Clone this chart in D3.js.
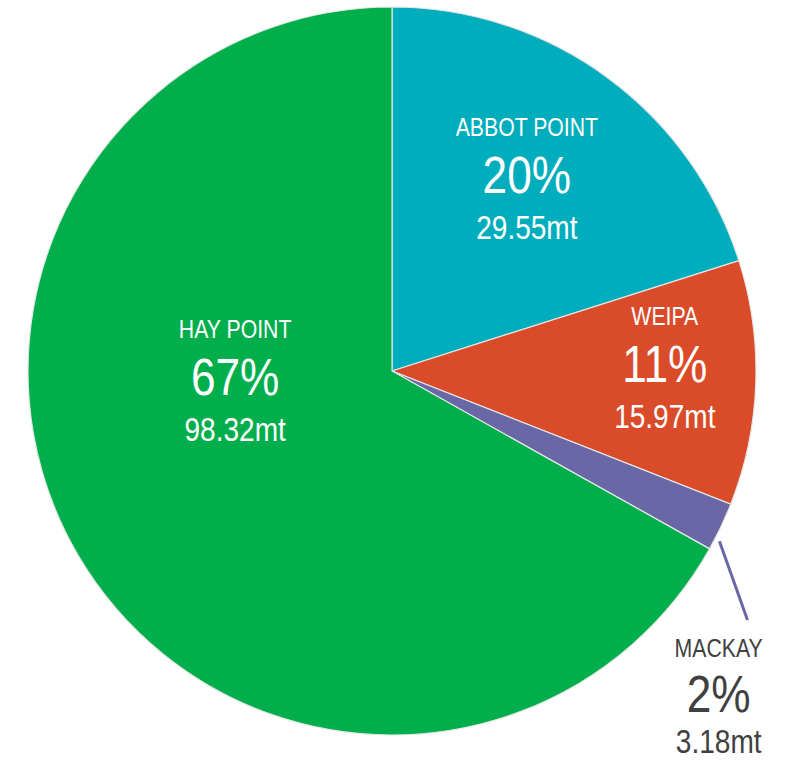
<!DOCTYPE html>
<html><head><meta charset="utf-8">
<script src="https://cdn.jsdelivr.net/npm/d3@7"></script>
<style>
html,body{margin:0;padding:0;background:#fff;}
svg text{font-family:"Liberation Sans Narrow","Arial Narrow","Liberation Sans",Arial,sans-serif;}
</style></head>
<body><svg id="chart" width="787" height="761"></svg>
<script>
const ports = ["ABBOT POINT", "WEIPA", "MACKAY", "HAY POINT"];
const tonnes = [29.55, 15.97, 3.18, 98.32];
const percents = ["20%", "11%", "2%", "67%"];
const colors = ["#00ADBD", "#DA4B2A", "#6A67A7", "#00AE4C"];

const cx = 392, cy = 371, R = 364;
const svg = d3.select("#chart");
const g = svg.append("g").attr("transform", `translate(${cx},${cy})`);

const data = ports.map((p, i) => ({port: p, value: tonnes[i], pct: percents[i], color: colors[i]}));
const pie = d3.pie().value(d => d.value).sort(null).startAngle(0).endAngle(2 * Math.PI);
const arcs = pie(data);
const arc = d3.arc().innerRadius(0).outerRadius(R);

g.selectAll("path.slice").data(arcs).enter().append("path")
  .attr("class", "slice")
  .attr("d", arc)
  .attr("fill", d => d.data.color)
  .attr("stroke", "#e6e6e6")
  .attr("stroke-width", 1.2);

const deg = Math.PI / 180;
// label placement settings per slice (radius fraction of R, optional angle override)
const place = {
  "ABBOT POINT": {rf: 0.613, dAng: 1.0 * deg},
  "WEIPA": {rf: 0.75, dAng: 0.4 * deg},
  "HAY POINT": {rf: 0.436, angle: 261.3 * deg},
  "MACKAY": {outside: true, lineStart: [R + 5, 2.1 * deg], lineEnd: [R + 70, 9.65 * deg], labelR: R + 108, labelAng: 20.85 * deg}
};

const polar = (r, a) => [r * Math.sin(a), -r * Math.cos(a)];
const scaleX = 0.85;

arcs.forEach(a => {
  const p = place[a.data.port];
  const mid = (a.startAngle + a.endAngle) / 2;
  let pos, fill;
  if (!p.outside) {
    pos = polar(p.rf * R, p.angle !== undefined ? p.angle : mid + (p.dAng || 0));
    fill = "#fff";
  } else {
    const s = polar(p.lineStart[0], mid + p.lineStart[1]);
    const e = polar(p.lineEnd[0], mid + p.lineEnd[1]);
    g.append("line")
      .attr("x1", s[0]).attr("y1", s[1]).attr("x2", e[0]).attr("y2", e[1])
      .attr("stroke", a.data.color).attr("stroke-width", 3);
    pos = polar(p.labelR, mid + p.labelAng);
    fill = "#404040";
  }
  const lg = g.append("g").attr("transform", `translate(${pos[0]},${pos[1]}) scale(${scaleX},1)`);
  lg.append("text").attr("text-anchor", "middle").attr("fill", fill)
    .attr("y", p.outside ? -55 : -57).style("font-size", "25px").text(a.data.port);
  lg.append("text").attr("text-anchor", "middle").attr("fill", fill)
    .attr("y", 0).style("font-size", "52px").text(a.data.pct);
  lg.append("text").attr("text-anchor", "middle").attr("fill", fill)
    .attr("y", p.outside ? 41 : 46).style("font-size", "33px").text(a.data.value.toFixed(2) + "mt");
});
</script></body></html>
